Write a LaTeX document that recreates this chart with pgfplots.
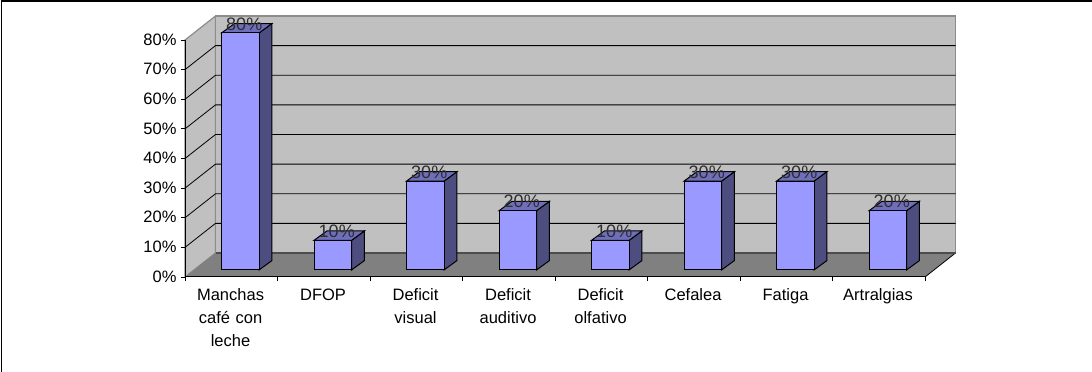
\documentclass[border=0pt]{standalone}
\usepackage{pgfplots}
\pgfplotsset{compat=1.18}
\usepackage{fontspec}
\setmainfont{Liberation Sans}
\definecolor{wall}{HTML}{C0C0C0}
\definecolor{walledge}{HTML}{8C8C8C}
\definecolor{floorgray}{HTML}{808080}
\definecolor{barfront}{HTML}{9999FF}
\definecolor{barside}{HTML}{4D4D80}
\definecolor{bartop}{HTML}{6E6EBA}
\definecolor{labelgray}{HTML}{2E2E2E}

% One unit of depth is 1 pt on the page; the axis has 92.5 pt per category and 2.9625 pt per percent.
\newcommand{\depthx}{30.5/92.5}
\newcommand{\depthy}{24/2.9625}
% Side and top faces of a column at position #1 with value #2.
\newcommand{\columnfaces}[2]{%
  \addplot[draw=black,fill=barside,line width=1pt,xshift=9pt,yshift=7pt] coordinates
    {(#1+0.2027,0) (#1+0.3432,3.2) (#1+0.3432,#2+3.2) (#1+0.2027,#2)} -- cycle;
  \addplot[draw=black,fill=bartop,line width=1pt,xshift=9pt,yshift=7pt] coordinates
    {(#1-0.2027,#2) (#1-0.0622,#2+3.2) (#1+0.3432,#2+3.2) (#1+0.2027,#2)} -- cycle;
}
% Grid line across the side wall and the back wall at value #1.
\newcommand{\wallgrid}[1]{%
  \addplot[black,line width=0.8pt] coordinates {(-0.5,#1) (-0.5+\depthx,#1+\depthy) (7.5+\depthx,#1+\depthy)};
}

\begin{document}
\begin{tikzpicture}[x=1pt,y=1pt]
\useasboundingbox (0,0) rectangle (1092,372);
\draw[black,line width=1.3pt] (1.6,-1) -- (1.6,370.9) -- (1093,370.9);
\begin{axis}[
  at={(185pt,95pt)},anchor=south west,
  scale only axis,width=740pt,height=237pt,
  xmin=-0.5,xmax=7.5,ymin=0,ymax=80,
  clip=false,axis on top,
  axis x line=bottom,axis y line=left,
  axis line style={-,black,line width=1pt},
  ytick={0,10,...,80},
  yticklabel={\pgfmathprintnumber{\tick}\%},
  xtick={0,...,7},
  xticklabels={Manchas\\café con\\leche,DFOP,Deficit\\visual,Deficit\\auditivo,Deficit\\olfativo,Cefalea,Fatiga,Artralgias},
  xticklabel style={align=center,text width=80pt,yshift=-4pt,xshift=-0.7pt,font=\fontsize{16.5}{23}\selectfont},
  yticklabel style={font=\fontsize{16.5}{18}\selectfont,xshift=-1pt,yshift=0.5pt},
  /pgf/number format/assume math mode=true,
  major x tick style={draw=none},
  minor xtick={-0.5,0.5,...,7.5},
  minor tick length=4pt,
  major tick length=4pt,
  tick align=outside,
  tick style={black,line width=0.8pt},
]
% side wall, back wall, floor
\addplot[draw=walledge,fill=wall,line width=1.2pt] coordinates {(-0.5,0) (-0.5,80) (-0.5+\depthx,80+\depthy) (-0.5+\depthx,\depthy)} -- cycle;
\addplot[draw=walledge,fill=wall,line width=1.2pt] coordinates {(-0.5+\depthx,\depthy) (-0.5+\depthx,80+\depthy) (7.5+\depthx,80+\depthy) (7.5+\depthx,\depthy)} -- cycle;
\addplot[draw=none,fill=floorgray] coordinates {(-0.5,0) (-0.5+\depthx,\depthy) (7.5+\depthx,\depthy) (7.5,0)} -- cycle;
\addplot[black,line width=0.8pt] coordinates {(7.5,0) (7.5+\depthx,\depthy)};
\addplot[black!70,line width=1.2pt] coordinates {(-0.5+\depthx,\depthy) (7.5+\depthx,\depthy)};
\wallgrid{10}\wallgrid{20}\wallgrid{30}\wallgrid{40}\wallgrid{50}\wallgrid{60}\wallgrid{70}
% columns
\columnfaces{0}{80}\columnfaces{1}{10}\columnfaces{2}{30}\columnfaces{3}{20}
\columnfaces{4}{10}\columnfaces{5}{30}\columnfaces{6}{30}\columnfaces{7}{20}
\addplot[ybar,bar width=37.5pt,bar shift=0pt,draw=black,fill=barfront,line width=1pt,xshift=9pt,yshift=7pt,
  nodes near coords={\pgfmathprintnumber{\pgfplotspointmeta}\%},
  every node near coord/.style={font=\fontsize{18}{18}\selectfont,text=labelgray,anchor=center,xshift=4pt,yshift=9pt,inner sep=0pt},
] coordinates {(0,80) (1,10) (2,30) (3,20) (4,10) (5,30) (6,30) (7,20)};
\end{axis}
\end{tikzpicture}
\end{document}
